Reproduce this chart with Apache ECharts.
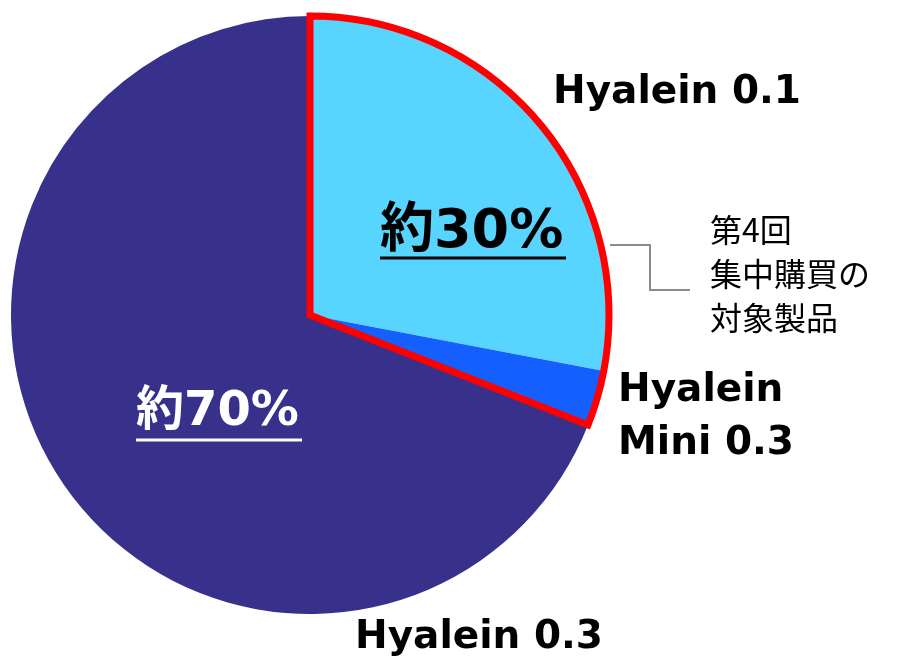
<!DOCTYPE html>
<html>
<head>
<meta charset="utf-8">
<script src="https://cdn.jsdelivr.net/npm/echarts@6/dist/echarts.min.js"></script>
<style>
  html, body { margin: 0; padding: 0; background: #fff; }
  #chart { width: 898px; height: 659px; }
</style>
</head>
<body>
<div id="chart"></div>
<script>
// 製品別シェア
const names = ['Hyalein 0.1', 'Hyalein Mini 0.3', 'Hyalein 0.3']
const values = [28, 3, 69]
const colors = ['#57d5ff', '#155fff', '#37318c']
// 集中購買の対象 (赤枠)
const groupValues = [31, 69]

const chart = echarts.init(document.getElementById('chart'))

const cx = 310
const cy = 315
const r = 299

const option = {
  animation: false,
  series: [
    {
      type: 'pie',
      center: [cx, cy],
      radius: r,
      startAngle: 90,
      clockwise: true,
      silent: true,
      label: { show: false },
      labelLine: { show: false },
      data: values.map((v, i) => ({
        name: names[i],
        value: v,
        itemStyle: { color: colors[i] },
      })),
    },
    {
      // 赤い枠線
      type: 'pie',
      center: [cx, cy],
      radius: r,
      startAngle: 90,
      clockwise: true,
      silent: true,
      z: 3,
      label: { show: false },
      labelLine: { show: false },
      data: [
        {
          value: groupValues[0],
          itemStyle: {
            color: 'rgba(0,0,0,0)',
            borderColor: '#ff0000',
            borderWidth: 7,
            borderJoin: 'miter',
          },
        },
        {
          value: groupValues[1],
          itemStyle: { color: 'rgba(0,0,0,0)', borderWidth: 0 },
        },
      ],
    },
  ],
  graphic: [
    {
      type: 'text',
      left: 380,
      top: 206,
      z: 10,
      style: {
        text: '約30%',
        font: 'bold 54px "DejaVu Sans", "Noto Sans CJK JP"',
        fill: '#000',
      },
    },
    {
      type: 'line',
      z: 10,
      shape: { x1: 380, y1: 258, x2: 566, y2: 258 },
      style: { stroke: '#000', lineWidth: 3 },
    },
    {
      type: 'text',
      left: 136,
      top: 389,
      z: 10,
      style: {
        text: '約70%',
        font: 'bold 48px "DejaVu Sans", "Noto Sans CJK JP"',
        fill: '#fff',
      },
    },
    {
      type: 'line',
      z: 10,
      shape: { x1: 136, y1: 440, x2: 302, y2: 440 },
      style: { stroke: '#fff', lineWidth: 3 },
    },
    {
      type: 'text',
      left: 553,
      top: 73,
      style: {
        text: 'Hyalein 0.1',
        font: 'bold 39px "DejaVu Sans"',
        fill: '#000',
      },
    },
    {
      type: 'text',
      left: 618,
      top: 364,
      style: {
        text: 'Hyalein\nMini 0.3',
        font: 'bold 39px "DejaVu Sans"',
        fill: '#000',
        lineHeight: 53,
      },
    },
    {
      type: 'text',
      left: 355,
      top: 618,
      style: {
        text: 'Hyalein 0.3',
        font: 'bold 39px "DejaVu Sans"',
        fill: '#000',
      },
    },
    {
      type: 'text',
      left: 710,
      top: 208,
      style: {
        text: '第4回\n集中購買の\n対象製品',
        font: '32px "Noto Sans CJK JP"',
        fill: '#000',
        lineHeight: 44,
      },
    },
    {
      type: 'polyline',
      shape: { points: [[610, 245], [650, 245], [650, 290], [690, 290]] },
      style: { stroke: '#8c8c8c', lineWidth: 2, fill: null },
    },
  ],
}

chart.setOption(option)
</script>
</body>
</html>
